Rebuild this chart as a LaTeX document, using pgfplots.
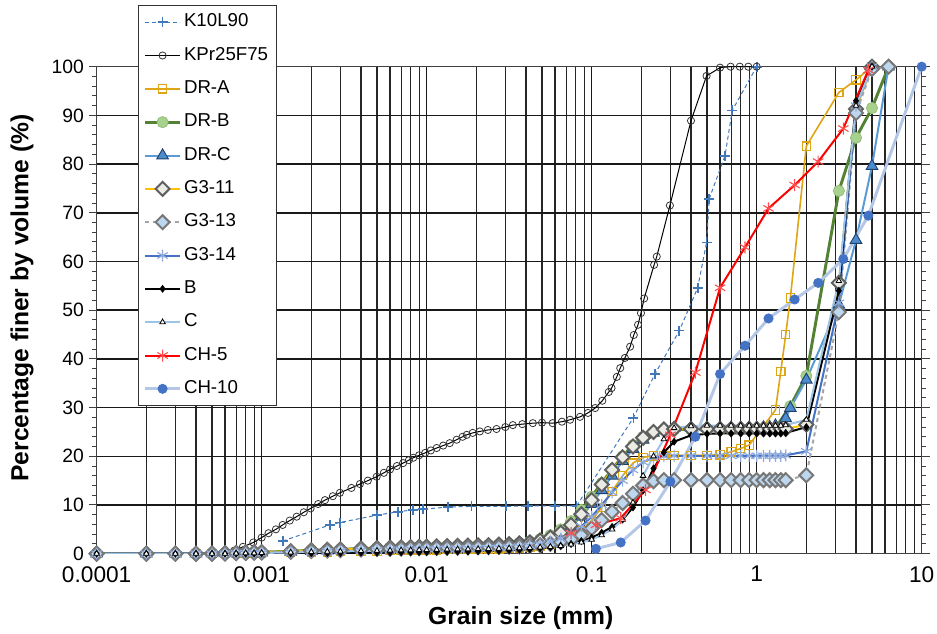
\documentclass[border=0pt]{standalone}
\usepackage{fontspec}
\setmainfont{Liberation Sans}
\usepackage{pgfplots}
\usepackage{pgfplotstable}
\pgfplotsset{compat=1.18}

\definecolor{kblue}{RGB}{65,120,185}
\definecolor{draGold}{RGB}{222,165,20}
\definecolor{drbGreen}{RGB}{84,130,53}
\definecolor{drbFill}{RGB}{169,209,142}
\definecolor{drcBlue}{RGB}{91,155,213}
\definecolor{drcFill}{RGB}{75,140,205}
\definecolor{drcEdge}{RGB}{35,65,110}
\definecolor{g311line}{RGB}{255,192,0}
\definecolor{g311fill}{RGB}{235,235,230}
\definecolor{dEdge}{RGB}{95,95,95}
\definecolor{g313line}{RGB}{165,165,165}
\definecolor{g313fill}{RGB}{189,215,238}
\definecolor{g313edge}{RGB}{120,120,120}
\definecolor{g314line}{RGB}{68,114,196}
\definecolor{g314mark}{RGB}{143,170,220}
\definecolor{cline}{RGB}{157,195,230}
\definecolor{ch10line}{RGB}{180,199,231}
\definecolor{ch10mark}{RGB}{68,114,196}

\pgfplotstableread[row sep=\\]{
x G311 G313 G314 DRA DRB DRC B C\\
0.0001 0 0 0 0 0 0 0 0\\
0.0002 0 0 0 0 0 0 0 0\\
0.0003 0 0 0 0 0 0 0 0\\
0.0004 0 0 0 0 0 0 0 0\\
0.0005 0.05 0 0 0 0.05 0.05 0 0\\
0.0006 0.1 0.05 0 0 0.1 0.1 0 0\\
0.0007 0.15 0.1 0.05 0 0.15 0.1 0 0.05\\
0.0008 0.2 0.15 0.1 0.05 0.2 0.15 0 0.1\\
0.0009 0.25 0.2 0.1 0.1 0.25 0.2 0.02 0.1\\
0.001 0.3 0.25 0.15 0.1 0.3 0.25 0.05 0.15\\
0.0015 0.5 0.4 0.25 0.2 0.5 0.4 0.08 0.25\\
0.002 0.7 0.55 0.35 0.3 0.7 0.55 0.1 0.35\\
0.0025 0.8 0.65 0.45 0.35 0.8 0.65 0.12 0.4\\
0.003 0.9 0.75 0.5 0.4 0.9 0.75 0.15 0.45\\
0.004 1.05 0.85 0.6 0.5 1.05 0.9 0.2 0.55\\
0.005 1.15 0.95 0.7 0.55 1.15 1.0 0.22 0.6\\
0.006 1.25 1.0 0.75 0.6 1.25 1.05 0.25 0.65\\
0.007 1.3 1.05 0.8 0.65 1.3 1.1 0.28 0.7\\
0.008 1.35 1.1 0.85 0.7 1.35 1.15 0.3 0.72\\
0.009 1.4 1.12 0.9 0.72 1.4 1.2 0.32 0.75\\
0.01 1.45 1.15 0.92 0.75 1.45 1.22 0.35 0.78\\
0.0115 1.5 1.2 0.95 0.8 1.5 1.25 0.38 0.8\\
0.0133 1.55 1.22 1.0 0.82 1.55 1.3 0.4 0.85\\
0.0154 1.6 1.25 1.02 0.85 1.6 1.35 0.42 0.9\\
0.0178 1.65 1.3 1.05 0.9 1.65 1.4 0.45 0.92\\
0.0205 1.7 1.32 1.1 0.92 1.7 1.45 0.5 0.95\\
0.0237 1.75 1.35 1.15 0.95 1.8 1.5 0.55 1.0\\
0.0274 1.85 1.4 1.2 1.0 1.9 1.6 0.6 1.05\\
0.0316 1.95 1.45 1.3 1.1 2.0 1.7 0.7 1.1\\
0.0365 2.1 1.5 1.45 1.2 2.2 1.9 0.8 1.15\\
0.0422 2.3 1.6 1.65 1.35 2.5 2.2 0.9 1.2\\
0.0487 2.7 1.75 1.95 1.6 3.0 2.6 1.1 1.3\\
0.0562 3.3 2.0 2.4 2.0 3.8 3.2 1.3 1.4\\
0.0649 4.3 2.4 3.1 2.6 5.0 4.2 1.6 1.6\\
0.075 5.9 2.9 4.1 3.5 6.7 5.6 2.0 1.9\\
0.0866 8.1 3.8 5.6 4.8 9.0 7.6 2.6 2.3\\
0.1 11.0 5.2 7.6 6.8 11.7 10.2 3.3 2.9\\
0.115 14.2 6.9 10.0 9.5 14.5 13.0 4.3 3.8\\
0.133 17.2 8.6 12.6 12.8 17.3 16.0 5.5 5.0\\
0.154 19.8 10.4 15.0 16.0 20.0 19.0 7.0 7.0\\
0.178 22.0 12.3 17.2 18.6 22.3 21.5 9.5 10.5\\
0.205 23.8 14.0 18.8 19.8 24.0 23.4 13.0 16.0\\
0.237 25.0 14.9 19.7 20.1 25.0 24.8 17.5 20.0\\
0.274 25.5 15.1 20.0 20.2 25.4 25.5 20.8 23.5\\
0.316 25.6 15.1 20.1 20.2 25.5 25.8 23.0 25.8\\
0.4 25.6 15.1 20.1 20.2 25.5 25.9 24.3 26.2\\
0.5 25.6 15.1 20.1 20.2 25.5 25.9 24.6 26.3\\
0.6 25.6 15.1 20.1 20.3 25.5 25.9 24.7 26.3\\
0.7 25.6 15.1 20.1 20.9 25.5 25.9 24.7 26.3\\
0.8 25.6 15.1 20.1 21.6 25.5 25.9 24.7 26.3\\
0.9 25.6 15.1 20.1 22.3 25.5 25.9 24.7 26.3\\
1.0 25.6 15.1 20.1 nan 25.5 25.9 24.7 26.3\\
1.1 25.6 15.1 20.1 nan 25.5 25.9 24.7 26.3\\
1.2 25.6 15.1 20.1 nan 25.6 26.0 24.7 26.3\\
1.3 25.6 15.1 20.1 29.5 25.8 26.3 24.7 26.3\\
1.4 25.6 15.1 20.1 37.4 nan nan 24.7 26.3\\
1.5 25.6 15.1 20.2 45.0 nan 27.8 24.8 26.4\\
1.6 nan nan nan 52.5 30.3 29.9 nan nan\\
2.0 26.5 16.1 21.0 83.7 36.5 35.7 26.0 27.5\\
3.15 55.6 49.6 51.5 94.7 74.5 51.1 54.0 56.0\\
4.0 91.3 90.5 92.0 97.3 85.4 64.4 93.0 92.0\\
5.0 100 99.5 100 100 91.5 79.6 100 100\\
6.3 nan 100 nan nan 100 100 nan nan\\
}\main

\begin{document}
\begin{tikzpicture}
\begin{axis}[
  scale only axis, width=618.75pt, height=365.25pt,
  xmode=log, xmin=0.0001, xmax=10, ymin=0, ymax=100,
  xtick={0.0001,0.001,0.01,0.1,1,10},
  xticklabels={0.0001,0.001,0.01,0.1,1,10},
  minor xtick={0.0002,0.0003,0.0004,0.0005,0.0006,0.0007,0.0008,0.0009,
    0.002,0.003,0.004,0.005,0.006,0.007,0.008,0.009,
    0.02,0.03,0.04,0.05,0.06,0.07,0.08,0.09,
    0.2,0.3,0.4,0.5,0.6,0.7,0.8,0.9,
    2,3,4,5,6,7,8,9},
  ytick={0,10,...,100},
  minor y tick num=4,
  xmajorgrids=true, xminorgrids=true, ymajorgrids=true,
  major grid style={black!90, line width=1.1pt},
  minor grid style={black!85, line width=0.85pt},
  major tick length=6pt, minor tick length=3.5pt,
  tick align=outside,
  x tick style={draw=none},
  y tick style={black!75, line width=0.75pt},
  axis line style={black!75, line width=0.9pt},
  /pgf/number format/assume math mode=true,
  xticklabel style={font=\fontsize{17}{19}\selectfont},
  yticklabel style={font=\fontsize{14.5}{17}\selectfont},
  xlabel={\textbf{Grain size (mm)}},
  ylabel={\textbf{Percentage finer by volume (\%)}},
  label style={font=\fontsize{18.5}{21}\selectfont},
  xlabel style={at={(axis description cs:0.514,-0.133)}, anchor=center},
  ylabel style={at={(axis description cs:-0.0905,0.525)}, anchor=center},
  legend style={at={(axis description cs:0.05,1.1267)}, anchor=north west,
    draw=black!80, line width=0.8pt, fill=white,
    font=\fontsize{14}{16}\selectfont,
    row sep=8pt, inner xsep=4pt, inner ysep=4pt,
    nodes={text height=10pt, text depth=3pt, inner ysep=2pt}},
  legend cell align=left,
  legend image code/.code={\draw[mark repeat=2,mark phase=2,#1] plot coordinates {(0pt,0pt) (13pt,0pt) (26pt,0pt)};},
]
% K10L90
\addplot[kblue, dash pattern=on 3pt off 2.2pt, line width=0.75pt, mark=+, mark size=3.75pt,
  mark options={solid, line width=1.3pt}] coordinates {
(0.00134,2.6) (0.00259,5.9) (0.00298,6.4) (0.00498,7.9) (0.0067,8.6) (0.0083,9.0)
(0.0095,9.1) (0.0135,9.6) (0.0187,9.7) (0.0302,9.7) (0.041,9.8) (0.06,9.8) (0.081,9.8)
(0.179,27.9) (0.242,36.9) (0.34,45.8) (0.439,54.6) (0.497,63.9) (0.516,72.9)
(0.643,81.7) (0.711,91.0) (1.0,100)};
% KPr25F75
\addplot[black, line width=0.75pt, mark=o, mark size=2.7pt,
  mark options={line width=0.6pt, draw=black!80}] coordinates {
(0.000585,0) (0.00068,0.6) (0.00077,1.4) (0.00089,2.3) (0.001,3.3) (0.0011,4.2)
(0.00122,5.0) (0.00134,5.9) (0.00148,6.8) (0.00163,7.6) (0.0018,8.5) (0.00198,9.3)
(0.0022,10.2) (0.00242,11.0) (0.0027,11.8) (0.00298,12.5) (0.0035,13.5) (0.00394,14.3)
(0.0044,15.0) (0.00498,15.8) (0.0055,16.6) (0.006,17.3) (0.0066,18.0) (0.0072,18.6)
(0.0078,19.2) (0.0083,19.7) (0.009,20.2) (0.0098,20.7) (0.0106,21.2) (0.0115,21.7)
(0.0126,22.2) (0.0138,22.7) (0.0152,23.4) (0.0165,24.0) (0.0175,24.4) (0.019,24.8)
(0.021,25.1) (0.0235,25.4) (0.0265,25.6) (0.03,26.0) (0.0333,26.4) (0.038,26.6)
(0.044,26.8) (0.05,26.9) (0.058,26.8) (0.066,27.1) (0.074,27.5) (0.085,28.1)
(0.095,28.9) (0.105,29.9) (0.116,31.4) (0.127,33.2) (0.132,34.0) (0.142,36.3)
(0.149,38.1) (0.159,40.2) (0.171,42.5) (0.18,44.9) (0.191,47.0) (0.199,49.4)
(0.208,52.4) (0.239,59.3) (0.248,61.0) (0.298,71.5) (0.4,88.9) (0.497,98.1)
(0.6,99.8) (0.695,100) (0.79,100) (0.89,100) (1.0,100)};
% DR-A
\addplot[draGold, line width=1.2pt, mark=square, mark size=3.1pt,
  mark options={line width=0.9pt}] table[x=x, y=DRA] {\main};
% DR-B
\addplot[drbGreen, line width=2.2pt, mark=*, mark size=4.2pt,
  mark options={fill=drbFill, draw=drbFill!75!drbGreen, line width=0.6pt}] table[x=x, y=DRB] {\main};
% DR-C
\addplot[drcBlue, line width=1.5pt, mark=triangle*, mark size=5pt,
  mark options={fill=drcFill, draw=drcEdge, line width=0.7pt}] table[x=x, y=DRC] {\main};
% G3-11
\addplot[g311line, line width=1.5pt, mark=square*, mark size=3.7pt,
  mark options={rotate=45, fill=g311fill, draw=dEdge, line width=1.5pt}] table[x=x, y=G311] {\main};
% G3-13
\addplot[g313line, dash pattern=on 3pt off 2.5pt, line width=1.5pt, mark=square*, mark size=3.7pt,
  mark options={solid, rotate=45, fill=g313fill, draw=g313edge, line width=1.5pt}] table[x=x, y=G313] {\main};
% G3-14
\addplot[g314line, line width=1.5pt, mark=asterisk, mark size=4.5pt,
  mark options={draw=g314mark, line width=0.9pt}] table[x=x, y=G314] {\main};
% B
\addplot[black, line width=1.5pt, mark=diamond*, mark size=1.8pt] table[x=x, y=B] {\main};
% C
\addplot[cline, line width=1.5pt, mark=triangle*, mark size=2.4pt,
  mark options={fill=white, draw=black, line width=0.6pt}] table[x=x, y=C] {\main};
% CH-5
\addplot[red, line width=1.5pt, mark=asterisk, mark size=4.5pt,
  mark options={draw=red!70, line width=0.8pt}] coordinates {
(0.075,4.2) (0.106,5.9) (0.15,7.3) (0.212,13.1) (0.3,24.4) (0.425,37.2) (0.6,54.6)
(0.85,62.9) (1.18,70.9) (1.7,75.7) (2.36,80.5) (3.35,87.3) (4.75,99.3)};
% CH-10
\addplot[ch10line, line width=2.2pt, mark=*, mark size=2.6pt,
  mark options={fill=ch10mark, draw=ch10mark}] coordinates {
(0.106,1.0) (0.15,2.3) (0.212,6.8) (0.3,14.8) (0.425,24.0) (0.6,36.9) (0.85,42.7)
(1.18,48.3) (1.7,52.2) (2.36,55.6) (3.35,60.5) (4.75,69.4) (10,100)};
\legend{K10L90, KPr25F75, DR-A, DR-B, DR-C, G3-11, G3-13, G3-14, B, C, CH-5, CH-10}
\end{axis}
\pgfresetboundingbox
\useasboundingbox ([shift={(-72.5pt,-59.5pt)}]current axis.south west) rectangle ([shift={(11.5pt,50pt)}]current axis.north east);
\end{tikzpicture}
\end{document}
